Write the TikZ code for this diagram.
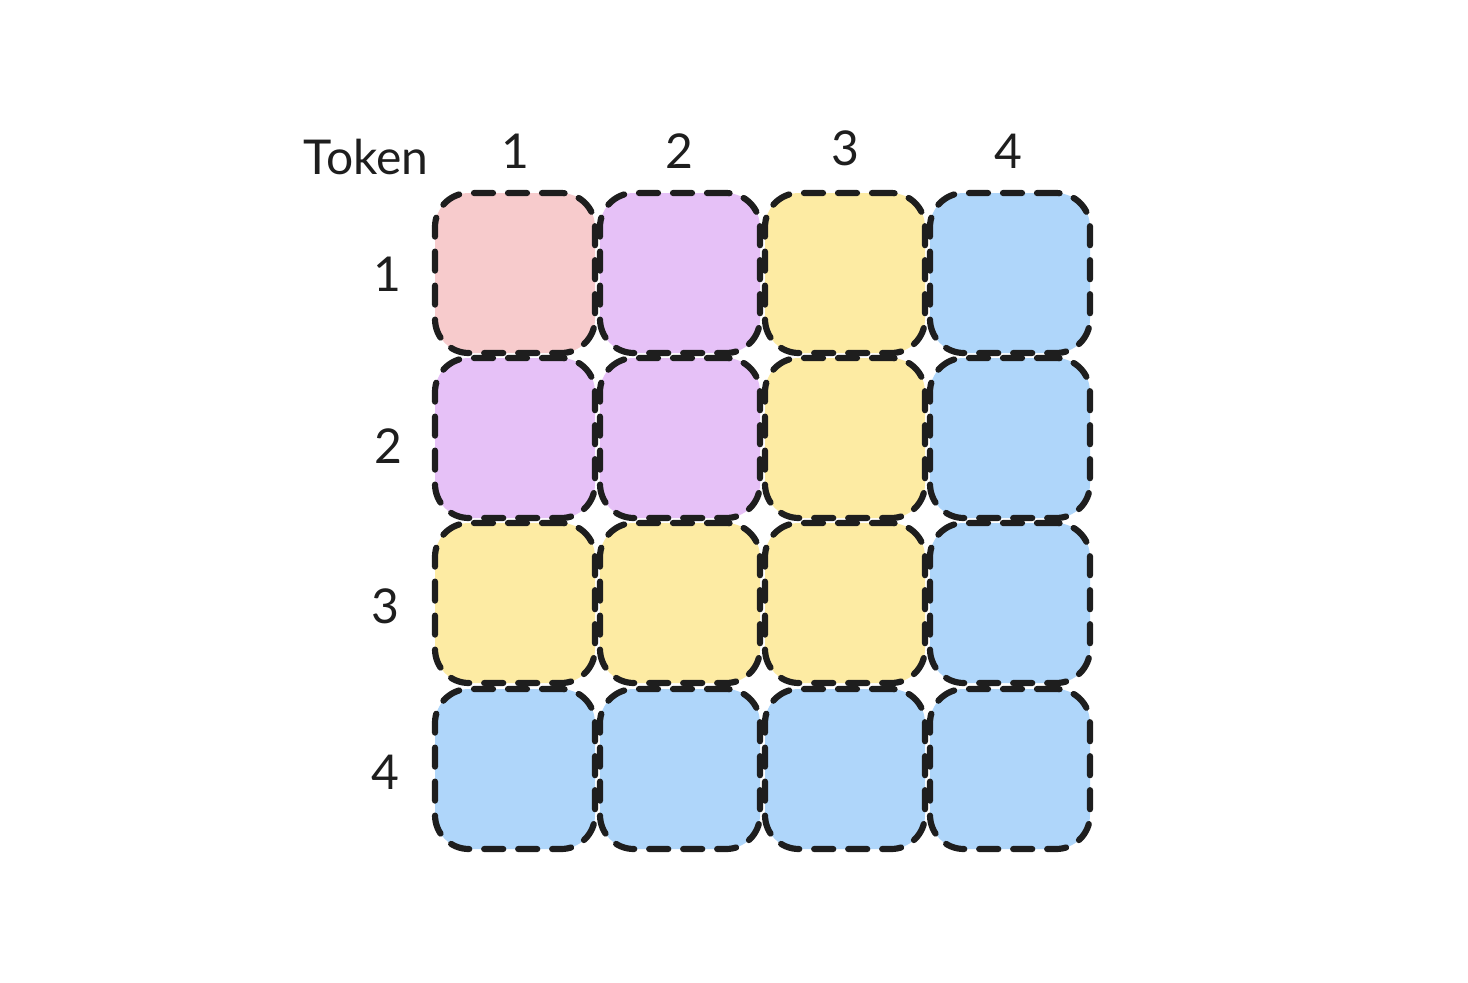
\documentclass[tikz,border=0pt]{standalone}
\usepackage{fontspec}
\setmainfont{Lato}
\definecolor{cpink}{HTML}{F7CBCC}
\definecolor{cpurple}{HTML}{E6C1F7}
\definecolor{cyellow}{HTML}{FDEBA3}
\definecolor{cblue}{HTML}{AFD6FA}
\definecolor{cink}{HTML}{1E1E1E}
\begin{document}
\begin{tikzpicture}[x=0.5pt,y=-0.5pt,
  cell/.style={draw=cink, line width=3.1pt, dash pattern=on 9.5pt off 7.5pt, line cap=round,
    rounded corners=17pt, minimum width=80pt, minimum height=80pt, inner sep=0pt},
  lab/.style={text=cink, font=\fontsize{24}{28}\selectfont, inner sep=0pt, anchor=center}]
\useasboundingbox (0,0) rectangle (1468,982);
\node[lab] (tok) at (366,157) {Token};
\node[lab] (c1) at (515,151) {1};
\node[lab] (c2) at (679,151) {2};
\node[lab] (c3) at (845,148) {3};
\node[lab] (c4) at (1008,151) {4};
\node[lab] (r1) at (387,274) {1};
\node[lab] (r2) at (388,446) {2};
\node[lab] (r3) at (385,606) {3};
\node[lab] (r4) at (385,772) {4};
\foreach \r/\y/\ca/\cb/\cc/\cd in {1/273/cpink/cpurple/cyellow/cblue,
                                    2/438/cpurple/cpurple/cyellow/cblue,
                                    3/603/cyellow/cyellow/cyellow/cblue,
                                    4/769/cblue/cblue/cblue/cblue}{
  \node[cell, fill=\ca] (m\r-1) at (515,\y) {};
  \node[cell, fill=\cb] (m\r-2) at (680,\y) {};
  \node[cell, fill=\cc] (m\r-3) at (845,\y) {};
  \node[cell, fill=\cd] (m\r-4) at (1010,\y) {};
}
\end{tikzpicture}
\end{document}
